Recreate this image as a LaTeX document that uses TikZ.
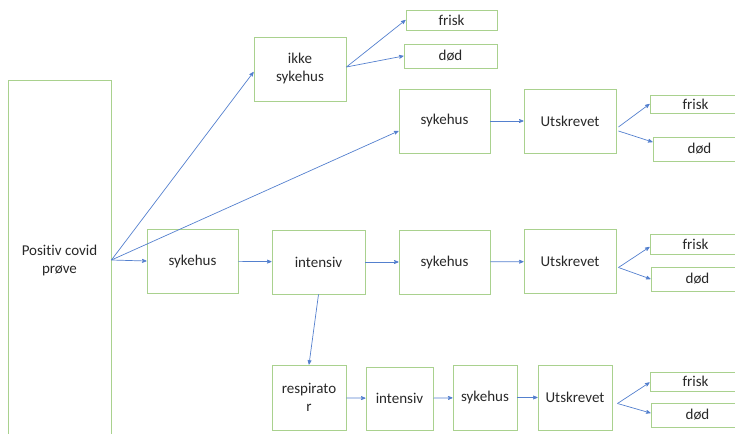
\documentclass[tikz,border=0pt]{standalone}
\usepackage{fontspec}
\setmainfont{Carlito}[Ligatures=NoCommon]
\usetikzlibrary{arrows}
\definecolor{boksgronn}{RGB}{169,209,142}
\definecolor{pilbla}{RGB}{84,128,206}
\definecolor{tekst}{RGB}{40,40,40}
\tikzset{
    %Standard pilspiss
    >=stealth',
    boks/.style={
      rectangle,
      draw=boksgronn, line width=0.9pt,
      text=tekst,
      inner sep=0pt,
      align=center,
      minimum width=92pt,
      minimum height=64pt,
      font=\fontsize{15}{18}\selectfont},
    frisk/.style={
      boks,
      minimum width=91pt,
      minimum height=20pt},
    dod/.style={
      boks,
      minimum width=93pt,
      minimum height=24pt},
    pil/.style={
      draw=pilbla, line width=0.7pt},
}

\begin{document}
\begin{tikzpicture}[x=1pt,y=-1pt]
    \useasboundingbox (0,0) rectangle (735,433);
    % start
    \node (prove) [boks, minimum width=103pt, minimum height=360pt] at (59.5,260)
          {Positiv covid\\prøve};
    % ikke sykehus
    \node (ikke) [boks] at (300,69)
          {ikke\\sykehus};
    \node (friskA) [frisk] at (451.5,20)
          {frisk};
    \node (dodA) [dod] at (450.5,56)
          {død};
    % sykehus
    \node (sykB) [boks, minimum width=91pt] at (444.5,121)
          {sykehus};
    \node (utskB) [boks] at (570,121)
          {Utskrevet}
          edge [pil,<-] (sykB);
    \node (friskB) [frisk, minimum height=18pt] at (695.5,104)
          {frisk};
    \node (dodB) [dod] at (699.5,149)
          {død};
    % intensiv
    \node (sykC) [boks, minimum width=91pt] at (192.5,261)
          {sykehus};
    \node (intC) [boks, minimum width=93pt] at (318.5,262)
          {intensiv}
          edge [pil,<-] (sykC);
    \node (sykC2) [boks, minimum width=91pt] at (444.5,262)
          {sykehus}
          edge [pil,<-] (intC);
    \node (utskC) [boks] at (570,261.5)
          {Utskrevet}
          edge [pil,<-] (sykC2);
    \node (friskC) [frisk] at (695.5,244)
          {frisk};
    \node (dodC) [dod] at (697.5,279)
          {død};
    % respirator
    \node (resp) [boks, minimum width=74pt, minimum height=65pt] at (309,397.5)
          {respirato\\r};
    \node (intD) [boks, minimum width=67pt, minimum height=63pt] at (399.5,398.5)
          {intensiv}
          edge [pil,<-] (resp);
    \node (sykD) [boks, minimum width=64pt, minimum height=65pt] at (485,397.5)
          {sykehus}
          edge [pil,<-] (intD);
    \node (utskD) [boks, minimum width=74pt, minimum height=65pt] at (575,397.5)
          {Utskrevet}
          edge [pil,<-] (sykD);
    \node (friskD) [frisk, minimum height=19pt] at (695.5,381.5)
          {frisk};
    \node (dodD) [dod] at (697.5,415)
          {død};

    % piler
    \draw [pil,->] (prove.east) -- ([yshift=-3pt]ikke.west);
    \draw [pil,->] (prove.east) -- ([yshift=-10pt]sykB.west);
    \draw [pil,->] (prove.east) -- (sykC.west);
    \draw [pil,->] (intC.south) -- (resp.north);
    \draw [pil,->] ([yshift=2pt]ikke.east) -- (friskA.west);
    \draw [pil,->] ([yshift=2pt]ikke.east) -- (dodA.west);
    \draw [pil,->] ([xshift=2pt,yshift=-6pt]utskB.east) -- (friskB.west);
    \draw [pil,->] ([xshift=2pt,yshift=-10pt]utskB.east) -- ([yshift=7pt]dodB.west);
    \draw [pil,->] ([xshift=2pt,yshift=-6pt]utskC.east) -- ([yshift=-3pt]friskC.west);
    \draw [pil,->] ([xshift=2pt,yshift=-6pt]utskC.east) -- (dodC.west);
    \draw [pil,->] ([xshift=5pt,yshift=-6pt]utskD.east) -- ([yshift=-1pt]friskD.west);
    \draw [pil,->] ([xshift=5pt,yshift=-6pt]utskD.east) -- ([yshift=2pt]dodD.west);
\end{tikzpicture}
\end{document}
